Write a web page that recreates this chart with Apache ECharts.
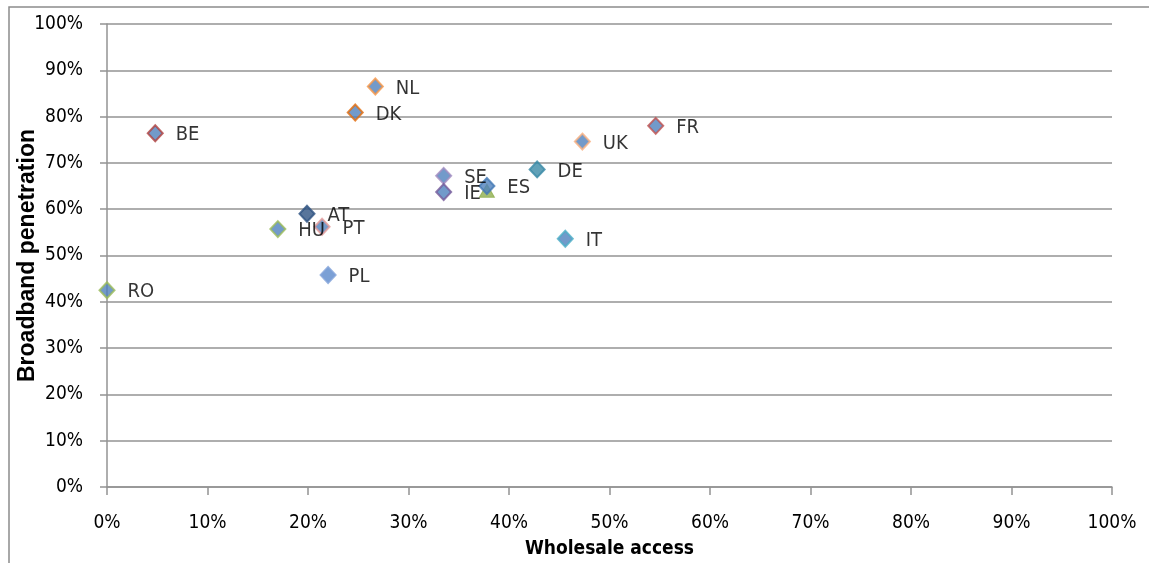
<!DOCTYPE html>
<html>
<head>
<meta charset="utf-8">
<script src="https://cdn.jsdelivr.net/npm/echarts@6/dist/echarts.min.js"></script>
<style>
  html, body { margin: 0; padding: 0; background: #fff; }
  #chart { width: 1149px; height: 563px; }
</style>
</head>
<body>
<div id="chart"></div>
<script>
// Broadband penetration vs. share of wholesale access, per country (percent)
const countries = ['RO', 'BE', 'NL', 'DK', 'AT', 'HU', 'PT', 'PL', 'SE', 'IE', 'ES', 'DE', 'UK', 'FR', 'IT'];
const wholesaleAccess = [0.0, 4.8, 26.7, 24.7, 19.9, 17.0, 21.4, 22.0, 33.5, 33.5, 37.8, 42.8, 47.3, 54.6, 45.6];
const broadbandPenetration = [42.5, 76.4, 86.5, 80.9, 59.0, 55.7, 56.2, 45.8, 67.2, 63.7, 65.0, 68.6, 74.6, 78.0, 53.6];

// Unlabelled extra point (triangle) sitting just under ES
const extraWholesale = [37.8];
const extraPenetration = [64.0];

const axisTicks = [0, 10, 20, 30, 40, 50, 60, 70, 80, 90, 100];

// Marker fill / border per country
const markerStyle = {
  RO: ['#4F81BD', '#9BBB59'],
  BE: ['#4F81BD', '#B0403D'],
  NL: ['#4F81BD', '#F79646'],
  DK: ['#4F81BD', '#E46C0A'],
  AT: ['#2E5282', '#2E5282'],
  HU: ['#4F81BD', '#9BBB59'],
  PT: ['#4F81BD', '#E49A98'],
  PL: ['#5A88CB', '#7EA0D8'],
  SE: ['#4F81BD', '#A28CC0'],
  IE: ['#4F81BD', '#765A9A'],
  ES: ['#4F81BD', '#4278B4'],
  DE: ['#3A8AA6', '#3A8AA6'],
  UK: ['#4F81BD', '#FAB080'],
  FR: ['#4F81BD', '#C0504D'],
  IT: ['#4F81BD', '#4BACC6']
};

const narrow = "'DejaVu Sans Condensed', 'Liberation Sans', sans-serif";
const wide = "'Liberation Sans', Arial, sans-serif";
const gridGray = '#939393';

const series = [{
  type: 'scatter',
  symbol: 'triangle',
  symbolSize: [15, 13],
  itemStyle: { color: '#8FAE4E', borderColor: '#8FAE4E', borderWidth: 1 },
  data: extraWholesale.map((x, i) => [x, extraPenetration[i]]),
  z: 2
}];

countries.forEach((name, i) => {
  const [fill, border] = markerStyle[name];
  series.push({
    type: 'scatter',
    name: name,
    symbol: 'diamond',
    symbolSize: [15, 16],
    itemStyle: { color: fill, borderColor: border, borderWidth: 2 },
    label: {
      show: true,
      position: 'right',
      distance: 12,
      offset: [0, 2],
      formatter: name,
      color: '#000',
      fontFamily: narrow,
      fontSize: 20
    },
    data: [[wholesaleAccess[i], broadbandPenetration[i]]],
    z: 3
  });
});

const chart = echarts.init(document.getElementById('chart'), null, { renderer: 'canvas' });
chart.setOption({
  animation: false,
  backgroundColor: '#fff',
  graphic: [{
    type: 'polyline',
    shape: { points: [[9, 600], [9, 7], [1200, 7]] },
    style: { stroke: '#8c8c8c', lineWidth: 1.5, fill: null },
    silent: true
  }],
  grid: { left: 107, right: 37, top: 24, bottom: 76, containLabel: false, outerBoundsMode: 'none' },
  xAxis: {
    type: 'value',
    min: axisTicks[0],
    max: axisTicks[axisTicks.length - 1],
    interval: 10,
    name: 'Wholesale access',
    nameLocation: 'middle',
    nameGap: 53,
    nameMoveOverlap: false,
    nameTextStyle: { fontFamily: narrow, fontWeight: 'bold', fontSize: 19, color: '#000' },
    axisLine: { show: true, lineStyle: { color: gridGray, width: 1.5 } },
    axisTick: { show: true, length: 8, lineStyle: { color: gridGray, width: 1.5 } },
    axisLabel: { formatter: '{value}%', margin: 27, fontFamily: narrow, fontSize: 19, color: '#000' },
    splitLine: { show: false }
  },
  yAxis: {
    type: 'value',
    min: axisTicks[0],
    max: axisTicks[axisTicks.length - 1],
    interval: 10,
    name: 'Broadband penetration',
    nameLocation: 'middle',
    nameGap: 68,
    nameMoveOverlap: false,
    nameTextStyle: { fontFamily: wide, fontWeight: 'bold', fontSize: 23, color: '#000' },
    axisLine: { show: true, lineStyle: { color: gridGray, width: 1.5 } },
    axisTick: { show: true, length: 7, lineStyle: { color: gridGray, width: 1.5 } },
    axisLabel: { formatter: '{value}%', margin: 24, fontFamily: narrow, fontSize: 19, color: '#000' },
    splitLine: { show: true, lineStyle: { color: gridGray, width: 1.5 } }
  },
  series: series
});
</script>
</body>
</html>
